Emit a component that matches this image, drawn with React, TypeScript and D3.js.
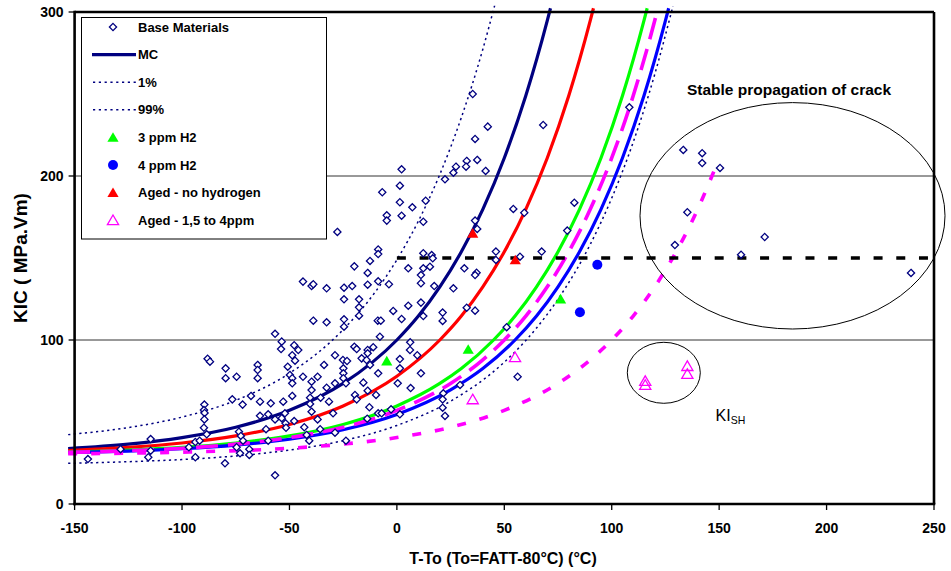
import React from "react";
import * as d3 from "d3";

type Pt = [number, number];

// Fracture toughness of the base materials (T - To in °C, KIC in MPa.√m)
const baseMaterials: Pt[] = [
  [-143.8, 27.4], [-128.6, 33.4], [-114.6, 39.6], [-114.6, 32.5], [-115.7, 28.5], [-96.8, 34.6],
  [-93.8, 37.8], [-91.8, 38.6], [-93.8, 28.5], [-88.1, 88.6], [-87.0, 86.8], [-89.6, 60.6],
  [-89.8, 57.3], [-89.5, 55.5], [-89.6, 51.6], [-89.8, 46.5], [-88.5, 42.5],
  [-43.7, 135.6], [-39.7, 132.9], [-38.9, 134.0], [-32.7, 131.5], [-38.9, 111.8], [-32.7, 110.8],
  [-56.7, 103.8], [-53.6, 99.0], [-53.9, 94.5], [-47.8, 96.8], [-45.9, 93.9], [-48.7, 90.7],
  [-47.4, 87.4], [-50.8, 83.7], [-49.8, 78.7], [-48.7, 76.7], [-48.7, 73.6], [-43.7, 77.6],
  [-39.7, 74.6], [-36.9, 77.6], [-33.9, 84.8], [-28.8, 90.7], [-28.8, 73.6], [-32.7, 70.9],
  [-64.8, 84.8], [-64.8, 81.7], [-64.8, 76.7], [-79.7, 82.7], [-79.7, 76.7], [-74.6, 77.6],
  [-76.6, 63.8], [-71.8, 60.6], [-67.9, 65.9], [-63.7, 62.4], [-58.7, 61.4], [-52.9, 62.4],
  [-48.7, 65.9], [-39.7, 69.5], [-40.4, 64.8], [-35.5, 64.8], [-31.6, 62.4], [-40.4, 61.0],
  [-39.7, 56.3], [-29.7, 55.3], [-63.7, 53.8], [-59.9, 54.7], [-56.7, 51.6], [-52.1, 55.3],
  [-53.6, 52.3], [-51.8, 49.2], [-47.8, 50.6], [-51.6, 46.5], [-60.9, 45.6], [-73.5, 44.1],
  [-72.6, 41.5], [-71.6, 38.6], [-59.9, 38.6], [-74.6, 34.6], [-68.7, 33.4], [-73.0, 30.9],
  [-68.7, 29.9], [-80.0, 24.8], [-56.7, 17.5], [-43.1, 46.8], [-42.0, 42.1], [-36.9, 51.6],
  [-35.7, 45.6], [-40.8, 38.6], [-28.8, 43.5], [-27.7, 165.9],
  [2.2, 204.1], [1.4, 194.1], [-6.8, 190.1], [1.4, 184.0], [7.2, 180.9], [13.4, 184.9],
  [-4.7, 176.0], [-4.7, 172.8], [2.2, 175.8], [12.3, 172.1], [22.4, 198.0], [-8.7, 155.2],
  [-8.7, 152.4], [-12.5, 148.2], [-19.8, 144.9], [-13.6, 140.9], [-20.8, 132.9], [-13.6, 133.7],
  [-8.7, 135.8], [-3.7, 134.0], [-24.6, 131.9], [-24.6, 124.8], [-17.6, 124.8], [-17.6, 119.9],
  [-17.6, 114.8], [-24.6, 112.6], [-24.6, 108.1], [-8.9, 111.8], [-7.5, 111.8], [-1.7, 117.7],
  [2.2, 112.8], [5.3, 120.9], [11.2, 122.8], [12.3, 114.6], [5.3, 143.7], [11.2, 139.6],
  [11.2, 134.6], [12.3, 143.7], [15.4, 144.7], [12.3, 152.9], [16.2, 151.8], [16.7, 149.8],
  [17.4, 132.9], [21.3, 116.7], [21.3, 111.6], [-7.9, 102.0], [-19.8, 95.9], [-18.7, 94.5],
  [-16.4, 88.8], [-13.6, 93.9], [-13.6, 91.9], [-14.1, 87.8], [-11.0, 95.6], [-12.5, 84.8],
  [-25.1, 87.8], [-23.2, 87.2], [-24.9, 82.7], [-24.9, 79.7], [-24.9, 76.7], [-23.7, 73.6],
  [-15.6, 74.0], [-8.7, 79.7], [1.4, 88.4], [1.4, 82.7], [6.2, 98.6], [6.1, 93.9],
  [9.5, 90.7], [11.2, 79.7], [0.4, 73.6], [6.4, 70.7], [-13.6, 69.1], [-19.5, 66.5],
  [-18.7, 63.8], [-9.7, 66.5], [-12.8, 59.0], [-8.7, 55.3], [-7.1, 55.3], [-2.7, 57.7],
  [1.4, 54.7], [-13.8, 52.0], [-23.7, 38.6], [21.6, 67.5], [21.3, 63.8], [21.3, 58.7],
  [22.4, 53.7],
  [35.3, 250.0], [42.3, 230.1], [36.4, 222.6], [32.5, 209.2], [32.2, 205.7], [37.4, 209.8],
  [27.5, 205.7], [26.3, 202.0], [41.3, 203.1], [68.1, 231.1], [54.2, 179.9], [59.3, 177.6],
  [36.4, 172.8], [37.4, 167.7], [46.1, 153.9], [46.1, 148.8], [57.3, 150.8], [67.4, 153.9],
  [31.4, 143.7], [37.1, 141.0], [36.4, 139.6], [26.3, 131.5], [32.5, 119.7], [36.4, 117.9],
  [82.6, 183.7], [79.3, 166.7], [51.1, 107.8], [56.2, 77.6], [29.4, 72.6],
  [108.2, 241.9], [133.3, 215.9], [142.1, 213.9], [142.1, 207.9], [150.4, 204.9], [135.2, 177.9],
  [129.4, 157.9], [171.2, 162.8], [160.2, 152.0], [239.3, 140.9],
];

const h2_3ppm: Pt[] = [[-4.7, 87.2], [33.2, 94.3], [76.2, 125.0]];
const h2_4ppm: Pt[] = [[93.3, 145.9], [85.2, 116.9]];
const agedNoHydrogen: Pt[] = [[35.3, 165.1], [55.1, 148.8]];
const agedHydrogen: Pt[] = [
  [55.0, 89.5], [35.3, 63.8], [135.2, 84.1], [135.2, 79.3], [115.6, 75.0], [115.6, 72.6],
];

// Master curves (median) and tolerance bounds
const mcCurve: Pt[] = [
  [-153, 33.8], [-125, 36.5], [-100, 40.5], [-75, 46.8], [-50, 57.1], [-25, 73.5], [0, 100],
  [10, 114.6], [20, 132.4], [30, 153.8], [40, 179.7], [50, 211.0], [60, 248.9], [70, 294.7], [71.5, 302.3],
];
const lower1Curve: Pt[] = [
  [-153, 24.8], [-125, 25.8], [-100, 27.1], [-75, 29.3], [-50, 32.9], [-25, 38.6], [0, 47.9],
  [25, 62.7], [50, 86.5], [65, 107.3], [75, 124.9], [90, 158.3], [100, 186.5], [110, 220.6],
  [120, 261.9], [128.5, 303.6],
];
const upper99Curve: Pt[] = [
  [-153, 42.3], [-125, 46.6], [-100, 53.0], [-75, 63.2], [-50, 79.7], [-25, 106.3], [-10, 129.4],
  [0, 148.9], [10, 172.5], [20, 201.0], [30, 235.6], [40, 277.3], [45.5, 303.9],
];
const agedNoHydrogenCurve: Pt[] = [
  [-153, 32.6], [-125, 34.5], [-100, 37.2], [-75, 41.5], [-50, 48.5], [-25, 59.8], [0, 77.9],
  [20, 100], [30, 114.6], [40, 132.4], [50, 153.8], [60, 179.7], [70, 211.0], [80, 248.9],
  [90, 294.7], [91.5, 302.3],
];
const h2_3ppmCurve: Pt[] = [
  [-153, 31.6], [-125, 32.8], [-100, 34.5], [-75, 37.2], [-50, 41.5], [-25, 48.5], [0, 59.8],
  [20, 73.5], [30, 82.6], [45, 100], [55, 114.6], [65, 132.4], [75, 153.8], [85, 179.7],
  [95, 211.0], [105, 248.9], [115, 294.7], [116.5, 302.3],
];
const agedHydrogenCurve: Pt[] = [
  [-153, 31.5], [-125, 32.5], [-100, 34.0], [-75, 36.5], [-50, 40.5], [-25, 46.8], [0, 57.1],
  [25, 73.5], [40, 87.9], [50, 100], [60, 114.6], [70, 132.4], [80, 153.8], [90, 179.7],
  [100, 211.0], [110, 248.9], [120, 294.7], [121.5, 302.3],
];
const h2_4ppmCurve: Pt[] = [
  [-153, 31.3], [-125, 32.3], [-100, 33.7], [-75, 35.9], [-50, 39.5], [-25, 45.3], [0, 54.6],
  [25, 69.6], [40, 82.6], [55, 100], [65, 114.6], [75, 132.4], [85, 153.8], [95, 179.7],
  [105, 211.0], [115, 248.9], [125, 294.7], [126.5, 302.3],
];
const agedHydrogenLowerCurve: Pt[] = [
  [-153, 30.6], [-100, 31.6], [-50, 34.0], [-25, 36.5], [0, 40.5], [25, 46.8], [50, 57.1],
  [75, 73.5], [90, 87.9], [100, 100], [110, 114.6], [120, 132.4], [130, 153.8], [140, 179.7],
  [148, 204.3],
];
const stableLevel: Pt[] = [[0, 150], [250, 150]];

const xTicks = [-150, -100, -50, 0, 50, 100, 150, 200, 250];
const yTicks = [0, 100, 200, 300];
const gridValues = [100, 200];

const legendItems = [
  "Base Materials",
  "MC",
  "1%",
  "99%",
  "3 ppm H2",
  "4 ppm H2",
  "Aged - no hydrogen",
  "Aged - 1,5 to 4ppm",
];

const FONT = "'Liberation Sans', Arial, Helvetica, sans-serif";
const NAVY = "#000080";
const RED = "#ff0000";
const GREEN = "#00ff00";
const BLUE = "#0000ff";
const MAGENTA = "#ff00ff";

const W = 951;
const H = 571;
const plot = { left: 74.6, right: 934, top: 12, bottom: 504 };

const x = d3.scaleLinear().domain([-150, 250]).range([plot.left, plot.right]);
const y = d3.scaleLinear().domain([0, 300]).range([plot.bottom, plot.top]);

const line = d3
  .line<Pt>()
  .x((d) => x(d[0]))
  .y((d) => y(d[1]))
  .curve(d3.curveMonotoneX);

const diamond = "M0,-3.6L3.6,0L0,3.6L-3.6,0Z";
const triangle = "M0,-5.2L5.6,4.4L-5.6,4.4Z";

function Diamond({ cx, cy }: { cx: number; cy: number }) {
  return (
    <path
      d={diamond}
      transform={`translate(${cx},${cy})`}
      fill="#fff"
      stroke={NAVY}
      strokeWidth={1.3}
    />
  );
}

function LegendMarker({ i, cx, cy }: { i: number; cx: number; cy: number }) {
  switch (i) {
    case 0:
      return <Diamond cx={cx} cy={cy} />;
    case 1:
      return <line x1={92} x2={136} y1={cy} y2={cy} stroke={NAVY} strokeWidth={3.2} />;
    case 2:
    case 3:
      return (
        <line x1={93} x2={136} y1={cy} y2={cy} stroke={NAVY} strokeWidth={1.6} strokeDasharray="2.2 3.6" />
      );
    case 4:
      return <path d={triangle} transform={`translate(${cx},${cy})`} fill={GREEN} />;
    case 5:
      return <circle cx={cx} cy={cy} r={5} fill={BLUE} />;
    case 6:
      return <path d={triangle} transform={`translate(${cx},${cy})`} fill={RED} />;
    default:
      return (
        <path d={triangle} transform={`translate(${cx},${cy})`} fill="none" stroke={MAGENTA} strokeWidth={1.3} />
      );
  }
}

export default function App() {
  const legendY = (i: number) => 27 + i * 27.6;
  return (
    <svg
      width={W}
      height={H}
      style={{ position: "absolute", left: 0, top: 0, background: "#fff" }}
      fontFamily={FONT}
    >
      <rect x={0} y={0} width={W} height={H} fill="#fff" />

      {/* grid */}
      {gridValues.map((v) => (
        <line key={v} x1={plot.left} x2={plot.right} y1={y(v)} y2={y(v)} stroke="#333" strokeWidth={1} />
      ))}

      {/* tolerance bounds */}
      <path d={line(lower1Curve)!} fill="none" stroke={NAVY} strokeWidth={1.5} strokeDasharray="2.2 3.4" />
      <path d={line(upper99Curve)!} fill="none" stroke={NAVY} strokeWidth={1.5} strokeDasharray="2.2 3.4" />

      {/* master curves */}
      <path d={line(mcCurve)!} fill="none" stroke={NAVY} strokeWidth={3.2} />
      <path d={line(agedNoHydrogenCurve)!} fill="none" stroke={RED} strokeWidth={3.2} />
      <path d={line(h2_3ppmCurve)!} fill="none" stroke={GREEN} strokeWidth={3.2} />
      <path d={line(h2_4ppmCurve)!} fill="none" stroke={BLUE} strokeWidth={3.2} />
      <path d={line(agedHydrogenCurve)!} fill="none" stroke={MAGENTA} strokeWidth={3.6} strokeDasharray="22 10" />
      <path d={line(agedHydrogenLowerCurve)!} fill="none" stroke={MAGENTA} strokeWidth={3.6} strokeDasharray="9 14" />
      <path d={line(stableLevel)!} fill="none" stroke="#000" strokeWidth={3.6} strokeDasharray="9 13.7" />

      {/* axes and frame */}
      <line x1={plot.left} x2={plot.right} y1={plot.top} y2={plot.top} stroke="#000" strokeWidth={2.6} />
      <line x1={plot.right} x2={plot.right} y1={plot.top} y2={plot.bottom} stroke="#000" strokeWidth={2.6} />
      <line x1={plot.left} x2={plot.left} y1={plot.top - 1.3} y2={plot.bottom + 1.3} stroke="#000" strokeWidth={2.6} />
      <line x1={plot.left - 1.3} x2={plot.right + 1.3} y1={plot.bottom} y2={plot.bottom} stroke="#000" strokeWidth={2.6} />

      {yTicks.map((v) => (
        <g key={v}>
          <line x1={plot.left - 6} x2={plot.left} y1={y(v)} y2={y(v)} stroke="#000" strokeWidth={1.3} />
          <text x={plot.left - 11} y={y(v)} dy="0.36em" textAnchor="end" fontSize={14} fontWeight="bold">
            {v}
          </text>
        </g>
      ))}
      {xTicks.map((v) => (
        <g key={v}>
          <line x1={x(v)} x2={x(v)} y1={plot.bottom} y2={plot.bottom + 6} stroke="#000" strokeWidth={1.3} />
          <text x={x(v)} y={533} textAnchor="middle" fontSize={14} fontWeight="bold">
            {v}
          </text>
        </g>
      ))}

      <text x={503} y={564} textAnchor="middle" fontSize={16} fontWeight="bold">
        T-To (To=FATT-80°C) (°C)
      </text>
      <text
        transform={`translate(27,258) rotate(-90)`}
        textAnchor="middle"
        fontSize={19}
        fontWeight="bold"
      >
        KIC ( MPa.Vm)
      </text>

      {/* scatter */}
      {baseMaterials.map((d, i) => (
        <Diamond key={i} cx={x(d[0])} cy={y(d[1])} />
      ))}
      {h2_3ppm.map((d, i) => (
        <path key={i} d={triangle} transform={`translate(${x(d[0])},${y(d[1])})`} fill={GREEN} />
      ))}
      {h2_4ppm.map((d, i) => (
        <circle key={i} cx={x(d[0])} cy={y(d[1])} r={5} fill={BLUE} />
      ))}
      {agedNoHydrogen.map((d, i) => (
        <path key={i} d={triangle} transform={`translate(${x(d[0])},${y(d[1])})`} fill={RED} />
      ))}
      {agedHydrogen.map((d, i) => (
        <path
          key={i}
          d={triangle}
          transform={`translate(${x(d[0])},${y(d[1])})`}
          fill="none"
          stroke={MAGENTA}
          strokeWidth={1.3}
        />
      ))}

      {/* annotations */}
      <ellipse cx={792.5} cy={215.8} rx={152.5} ry={113.2} fill="none" stroke="#000" strokeWidth={1} />
      <ellipse cx={663.8} cy={372.8} rx={36.5} ry={30.5} fill="none" stroke="#000" strokeWidth={1} />
      <text x={789} y={95} textAnchor="middle" fontSize={15.5} fontWeight="bold">
        Stable propagation of crack
      </text>
      <text x={715.5} y={421} fontSize={16}>
        KI
        <tspan fontSize={10.5} dy={3}>
          SH
        </tspan>
      </text>

      {/* legend */}
      <rect x={81.5} y={17.5} width={245} height={221.5} fill="#fff" stroke="#000" strokeWidth={1} />
      {legendItems.map((label, i) => (
        <g key={label}>
          <LegendMarker i={i} cx={113} cy={legendY(i)} />
          <text x={138} y={legendY(i)} dy="0.36em" fontSize={13} fontWeight="bold">
            {label}
          </text>
        </g>
      ))}
    </svg>
  );
}
